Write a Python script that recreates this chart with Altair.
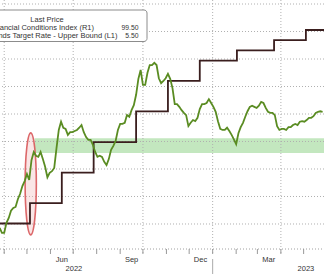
import altair as alt
import pandas as pd

# ---------------- data ----------------
# Financial conditions index (right axis), sampled every 3 days from 2022-03-26
fci_start = "2022-03-26"
fci_values = [
    97.43, 97.34, 97.34, 97.52, 97.61, 97.74, 97.79, 97.81, 97.95, 98.05,
    98.19, 98.28, 98.41, 98.30, 98.66, 98.81, 98.74, 98.72, 98.81, 98.68,
    98.54, 98.35, 98.43, 98.46, 98.52, 98.88, 99.21, 99.36, 99.25, 99.23,
    99.12, 99.17, 99.17, 99.19, 99.21, 99.25, 99.30, 99.17, 99.08, 99.03,
    99.03, 98.94, 98.81, 98.72, 98.74, 98.72, 98.63, 98.57, 98.68, 98.85,
    98.92, 99.01, 99.21, 99.32, 99.32, 99.34, 99.48, 99.45, 99.57, 99.66,
    99.85, 100.14, 100.30, 100.03, 100.03, 100.25, 100.39, 100.39, 100.43, 100.39,
    100.15, 100.06, 100.10, 100.15, 100.23, 100.14, 99.97, 99.68, 99.68, 99.63,
    99.57, 99.52, 99.48, 99.28, 99.34, 99.39, 99.37, 99.43, 99.59, 99.68,
    99.68, 99.70, 99.77, 99.70, 99.63, 99.54, 99.37, 99.23, 99.21, 99.21,
    99.25, 99.19, 99.12, 99.04, 98.95, 99.15, 99.26, 99.34, 99.45, 99.55,
    99.63, 99.65, 99.63, 99.61, 99.65, 99.72, 99.70, 99.61, 99.54, 99.52,
    99.52, 99.48, 99.28, 99.21, 99.23, 99.23, 99.21, 99.26, 99.26, 99.30,
    99.32, 99.30, 99.36, 99.37, 99.36, 99.39, 99.43, 99.43, 99.46, 99.52,
    99.54, 99.55, 99.54,
]

# Fed funds target rate - upper bound (left axis)
fed_dates = ["2022-03-17", "2022-05-05", "2022-06-16", "2022-07-28", "2022-09-22",
             "2022-11-03", "2022-12-15", "2023-02-02", "2023-03-23", "2023-05-04",
             "2023-07-27", "2023-08-31"]
fed_rates = [0.50, 1.00, 1.75, 2.50, 3.25, 4.00, 4.50, 4.75, 5.00, 5.25, 5.50, 5.50]

band_dates = ["2022-05-11", "2023-08-31"]
band_range = [98.79, 99.06]

grid_fci = [97.5, 98.0, 98.5, 99.0, 99.5, 100.0, 100.5, 101.0, 101.5]
grid_quarters = ["2022-04-01", "2022-07-01", "2022-10-01", "2023-01-01", "2023-04-01"]
tick_months = ["2022-04-01", "2022-05-01", "2022-06-01", "2022-07-01", "2022-08-01",
               "2022-09-01", "2022-10-01", "2022-11-01", "2022-12-01", "2023-01-01",
               "2023-02-01", "2023-03-01", "2023-04-01", "2023-05-01"]
month_labels = ["Jun", "Sep", "Dec", "Mar"]
month_label_dates = ["2022-06-16", "2022-09-16", "2022-12-16", "2023-03-16"]
year_labels = ["2022", "2023"]
year_label_dates = ["2022-07-02", "2023-05-04"]
year_break = ["2023-01-01"]

highlight_date = ["2022-05-06"]
highlight_value = [98.23]

legend_title = "Last Price"
legend_series = ["GS US Financial Conditions Index   (R1)",
                 "Federal Funds Target Rate - Upper Bound   (L1)"]
legend_last = ["99.50", "5.50"]

# ---------------- tables ----------------
fci_df = pd.DataFrame({
    "date": pd.date_range(fci_start, periods=len(fci_values), freq="3D"),
    "fci": fci_values,
})
fed_df = pd.DataFrame({"date": pd.to_datetime(fed_dates), "rate": fed_rates})
band_df = pd.DataFrame({"d1": [pd.Timestamp(band_dates[0])], "d2": [pd.Timestamp(band_dates[1])],
                        "lo": [band_range[0]], "hi": [band_range[1]]})
hgrid_df = pd.DataFrame({"v": grid_fci})
vgrid_df = pd.DataFrame({"date": pd.to_datetime(grid_quarters)})
ticks_df = pd.DataFrame({"date": pd.to_datetime(tick_months)})
mlab_df = pd.DataFrame({"date": pd.to_datetime(month_label_dates), "t": month_labels})
ylab_df = pd.DataFrame({"date": pd.to_datetime(year_label_dates), "t": year_labels})
ybreak_df = pd.DataFrame({"date": pd.to_datetime(year_break)})
hl_df = pd.DataFrame({"date": pd.to_datetime(highlight_date), "v": highlight_value})

X_DOMAIN = [alt.DateTime(year=2022, month=3, date=26, hours=11),
            alt.DateTime(year=2023, month=5, date=27, hours=21)]
FCI_DOMAIN = [97.027, 101.573]
FF_DOMAIN = [-0.15, 5.986]
FONT = "Liberation Sans"
TXT = "#333333"


def xenc(field="date"):
    return alt.X(f"{field}:T", scale=alt.Scale(domain=X_DOMAIN), axis=None)


band = alt.Chart(band_df).mark_rect(color="#b9e3b4", opacity=0.85, clip=True).encode(
    x=xenc("d1"), x2="d2:T",
    y=alt.Y("lo:Q", scale=alt.Scale(domain=FCI_DOMAIN), axis=None), y2="hi:Q")

hgrid = alt.Chart(hgrid_df).mark_rule(color="#b0b0b0", strokeDash=[1, 2], strokeWidth=1).encode(
    y=alt.Y("v:Q", scale=alt.Scale(domain=FCI_DOMAIN), axis=None))

vgrid = alt.Chart(vgrid_df).mark_rule(color="#b0b0b0", strokeDash=[1, 2], strokeWidth=1).encode(
    x=xenc(), y=alt.value(0), y2=alt.value(254))

base_line = alt.Chart(pd.DataFrame({"a": [0]})).mark_rule(
    color="#a0a0a0", strokeDash=[1, 2], strokeWidth=1).encode(
    x=alt.value(0), x2=alt.value(324), y=alt.value(249))

ticks = alt.Chart(ticks_df).mark_rule(color="#999999", strokeWidth=1).encode(
    x=xenc(), y=alt.value(249), y2=alt.value(254))

ybreak = alt.Chart(ybreak_df).mark_rule(color="#aaaaaa", strokeWidth=1).encode(
    x=xenc(), y=alt.value(259), y2=alt.value(274))

mlab = alt.Chart(mlab_df).mark_text(font=FONT, fontSize=7.5, color=TXT, baseline="middle").encode(
    x=xenc(), y=alt.value(260), text="t:N")

ylab = alt.Chart(ylab_df).mark_text(font=FONT, fontSize=7.5, color=TXT, baseline="middle").encode(
    x=xenc(), y=alt.value(269), text="t:N")

ellipse_path = ("M0,-1C0.061,-1,0.11,-0.552,0.11,0C0.11,0.552,0.061,1,0,1"
                "C-0.061,1,-0.11,0.552,-0.11,0C-0.11,-0.552,-0.061,-1,0,-1Z")
hl = alt.Chart(hl_df).mark_point(
    shape=ellipse_path, size=10404, filled=True, fill="#f2b8b8", fillOpacity=0.35,
    stroke="#d8585a", strokeWidth=1.6, strokeOpacity=0.9).encode(
    x=xenc(), y=alt.Y("v:Q", scale=alt.Scale(domain=FCI_DOMAIN), axis=None))

fed = alt.Chart(fed_df).mark_line(interpolate="step-after", color="#3a1e1e", strokeWidth=1.8,
                                  clip=True).encode(
    x=xenc(), y=alt.Y("rate:Q", scale=alt.Scale(domain=FF_DOMAIN), axis=None))

fci = alt.Chart(fci_df).mark_line(color="#5a8c22", strokeWidth=1.8, clip=True).encode(
    x=xenc(), y=alt.Y("fci:Q", scale=alt.Scale(domain=FCI_DOMAIN), axis=None))

one = pd.DataFrame({"a": [0]})
legend_box = alt.Chart(one).mark_rect(fill="white", stroke="#8c8c8c", strokeWidth=1,
                                      cornerRadius=3).encode(
    x=alt.value(-6), x2=alt.value(147), y=alt.value(10), y2=alt.value(41.5))

lt = alt.Chart(pd.DataFrame({"t": [legend_title]})).mark_text(
    font=FONT, fontSize=7.5, color=TXT, baseline="middle", align="center").encode(
    x=alt.value(47), y=alt.value(19.5), text="t:N")
l1 = alt.Chart(pd.DataFrame({"t": [legend_series[0]]})).mark_text(
    font=FONT, fontSize=7.5, color=TXT, baseline="middle", align="right").encode(
    x=alt.value(94), y=alt.value(27.5), text="t:N")
l2 = alt.Chart(pd.DataFrame({"t": [legend_series[1]]})).mark_text(
    font=FONT, fontSize=7.5, color=TXT, baseline="middle", align="right").encode(
    x=alt.value(117.5), y=alt.value(36), text="t:N")
v1 = alt.Chart(pd.DataFrame({"t": [legend_last[0]]})).mark_text(
    font=FONT, fontSize=6.8, color=TXT, baseline="middle", align="right").encode(
    x=alt.value(138.5), y=alt.value(27.5), text="t:N")
v2 = alt.Chart(pd.DataFrame({"t": [legend_last[1]]})).mark_text(
    font=FONT, fontSize=6.8, color=TXT, baseline="middle", align="right").encode(
    x=alt.value(138.5), y=alt.value(36), text="t:N")

chart = alt.layer(
    band, hgrid, vgrid, base_line, ticks, ybreak, mlab, ylab, hl, fed, fci,
    legend_box, lt, l1, l2, v1, v2,
).resolve_scale(y="independent").properties(
    width=324, height=250,
    autosize=alt.AutoSizeParams(type="none"),
    padding={"left": 0, "right": 0, "top": 0, "bottom": 24},
    background="white",
).configure_view(strokeWidth=0)

chart.save("out.html", embed_options={"renderer": "svg", "actions": False})
